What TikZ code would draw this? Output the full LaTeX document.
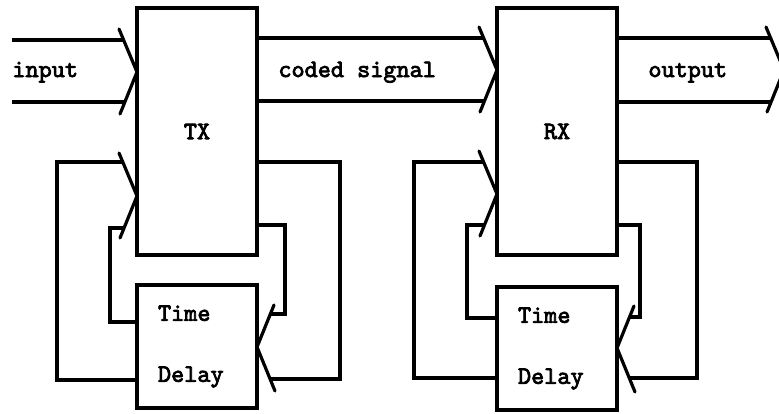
\documentclass[tikz,border=0pt]{standalone}
\usepackage{fontspec}
\newfontfamily\typefont{lmmono10-regular.otf}[BoldFont=lmmono10-regular.otf, BoldFeatures={FakeBold=3}]
\usetikzlibrary{positioning}

\begin{document}
\begin{tikzpicture}[x=0.5pt, y=-0.5pt,
    font=\typefont\bfseries\fontsize{12.5}{15}\selectfont,
    wire/.style={line width=1.6pt},
    head/.style={line width=1.6pt, line cap=round},
    blockbox/.style={draw, line width=1.6pt, minimum width=60pt, minimum height=123.5pt, outer sep=0pt},
    delaybox/.style={draw, line width=1.6pt, minimum width=60pt, minimum height=61.5pt, outer sep=0pt, text width=39pt, align=left},
    headR/.pic={\draw[head] (-18,-43) -- (0,0) -- (-17,42);},
    headL/.pic={\draw[head] (17,-42) -- (0,0) -- (18,44);}]

      \useasboundingbox (0,0) rectangle (779,413);

      % 1. Bloques
      \node[blockbox] (tx) at (197,131.5) {TX};
      \node[blockbox, right=120pt of tx] (rx) {RX};
      \node[delaybox, below=15pt of tx] (dtx) {Time\\[15.5pt]Delay};
      \node[delaybox, below=16pt of rx] (drx) {Time\\[15.5pt]Delay};

      % 2. Puntas de las flechas anchas
      \coordinate (txin) at (tx.west |- 0,72);
      \coordinate (rxin) at (rx.west |- 0,70);
      \coordinate (outtip) at (784,70);
      \coordinate (txfb) at (tx.west |- 0,196);
      \coordinate (rxfb) at (rx.west |- 0,194);
      \coordinate (dtxin) at (dtx.east |- 0,347);
      \coordinate (drxin) at (drx.east |- 0,348);

      % 3. Camino principal
      % input
      \draw[wire] (12,40) -- (124,40) (12,102) -- (124,102);
      \pic at (txin) {headR};
      \node[anchor=base west, inner xsep=0pt] (inlabel) at (12,77) {input};

      % coded signal
      \draw[wire] (tx.east |- 0,38) -- (484,38) (tx.east |- 0,101) -- (484,101);
      \pic at (rxin) {headR};
      \node[anchor=base west, inner xsep=0pt] (codlabel) at (278,77) {coded signal};

      % output
      \draw[wire] (rx.east |- 0,38) -- (771,38) (rx.east |- 0,102) -- (771,102);
      \pic at (outtip) {headR};
      \node[anchor=base west, inner xsep=0pt] (outlabel) at (648,77) {output};

      % 4. Lazo TX -- retardo
      \draw[wire] (tx.east |- 0,162) -- (340,162) -- (340,379) -- (270,379);
      \draw[wire] (tx.east |- 0,225) -- (285,225) -- (285,314) -- (270,314);
      \pic at (dtxin) {headL};
      \draw[wire] (dtx.west |- 0,322) -- (110,322) -- (110,228) -- (125,228);
      \draw[wire] (dtx.west |- 0,380) -- (57,380) -- (57,162) -- (124,162);
      \pic at (txfb) {headR};

      % 5. Lazo RX -- retardo
      \draw[wire] (rx.east |- 0,162) -- (697,162) -- (697,378) -- (629,378);
      \draw[wire] (rx.east |- 0,225) -- (640,225) -- (640,317) -- (630,317);
      \pic at (drxin) {headL};
      \draw[wire] (drx.west |- 0,318) -- (467,318) -- (467,225) -- (484,225);
      \draw[wire] (drx.west |- 0,378) -- (414,378) -- (414,162) -- (483,162);
      \pic at (rxfb) {headR};

    \end{tikzpicture}
\end{document}
